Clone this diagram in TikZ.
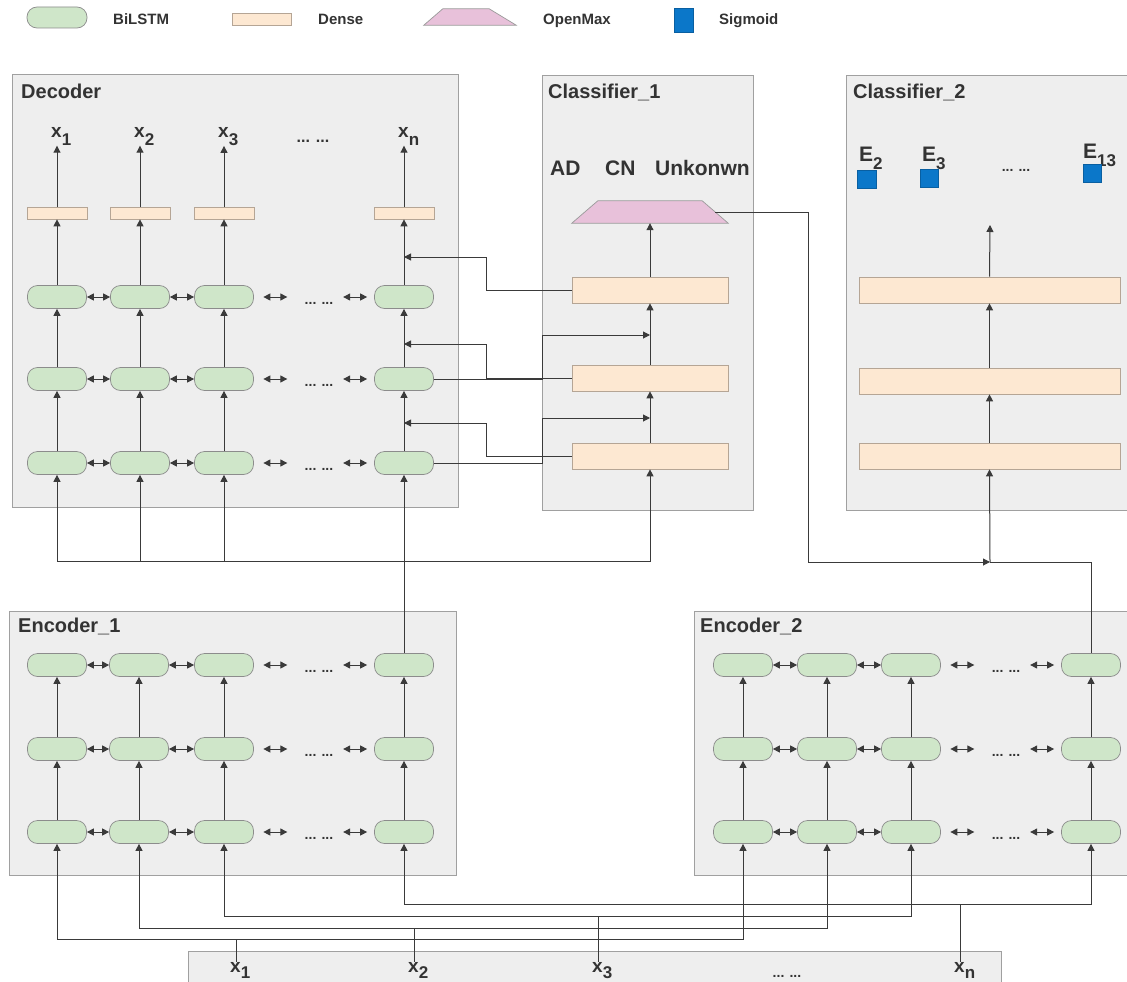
\documentclass[tikz,border=0pt]{standalone}
\usepackage{fontspec}
\setmainfont{Liberation Sans}
\usetikzlibrary{arrows.meta,calc}
\definecolor{txt}{HTML}{333333}
\definecolor{linec}{HTML}{3A3A3A}
\definecolor{boxfill}{HTML}{EEEEEE}
\definecolor{boxdraw}{HTML}{A0A0A0}
\definecolor{lstmfill}{HTML}{CFE6C9}
\definecolor{lstmdraw}{HTML}{8C8C8C}
\definecolor{densefill}{HTML}{FDE8D2}
\definecolor{densedraw}{HTML}{B5A595}
\definecolor{omfill}{HTML}{E8C1DA}
\definecolor{omdraw}{HTML}{9A9A9A}
\definecolor{sigfill}{HTML}{0B77C9}
\newcommand\sbx[1]{\raisebox{-8.5pt}{\fontsize{17}{17}\selectfont #1}}
\newcommand\sbxb[1]{\raisebox{-6.5pt}{\fontsize{17}{17}\selectfont #1}}
\tikzset{
  grp/.style={draw=boxdraw, fill=boxfill, line width=0.9pt},
  lstm/.style={draw=lstmdraw, fill=lstmfill, rounded corners=10pt, minimum width=59pt, minimum height=23pt, inner sep=0pt, line width=0.7pt},
  dns/.style={draw=densedraw, fill=densefill, inner sep=0pt, line width=0.7pt},
  sig/.style={draw=sigfill!80!black, fill=sigfill, inner sep=0pt, line width=0.5pt},
  ombox/.style={inner sep=0pt},
  omshape/.style={draw=omdraw, fill=omfill, line width=0.7pt},
  conn/.style={draw=linec, line width=1pt},
  arr/.style={conn, -{Triangle[length=7pt,width=7pt]}},
  darr/.style={conn, {Triangle[length=7pt,width=7pt]}-{Triangle[length=7pt,width=7pt]}},
  ttl/.style={font=\fontsize{20}{20}\selectfont\bfseries, text=txt, anchor=base west, inner sep=0pt},
  xlab/.style={font=\fontsize{19}{19}\selectfont\bfseries, text=txt, anchor=base west, inner sep=0pt},
  elab/.style={font=\fontsize{21}{21}\selectfont\bfseries, text=txt, anchor=base west, inner sep=0pt},
  cls/.style={font=\fontsize{21}{21}\selectfont\bfseries, text=txt, anchor=base west, inner sep=0pt},
  dots/.style={font=\fontsize{14}{14}\selectfont\bfseries, text=txt, anchor=base, inner sep=0pt},
  leg/.style={font=\fontsize{15}{15}\selectfont\bfseries, text=txt, anchor=base west, inner sep=0pt}
}
\newcommand\lstmgrid[3]{%
  \foreach \r/\y in {#3} { \foreach \c/\x in {#2} { \node[lstm] (#1-\r-\c) at (\x,\y) {}; } }
  \foreach \r in {1,2,3} {
    \draw[darr] (#1-\r-1.east) -- (#1-\r-2.west);
    \draw[darr] (#1-\r-2.east) -- (#1-\r-3.west);
    \draw[darr] ($(#1-\r-3.east)+(9.5,0)$) -- ++(24,0);
    \draw[darr] ($(#1-\r-4.west)+(-31,0)$) -- ++(24,0);
    \node[dots] (#1-dots-\r) at ($(#1-\r-3.east)!0.5!(#1-\r-4.west)+(5,7)$) {... ...};
  }
  \foreach \c in {1,2,3,4} {
    \draw[arr] (#1-2-\c.north) -- (#1-1-\c.south);
    \draw[arr] (#1-3-\c.north) -- (#1-2-\c.south);
  }
}
\begin{document}
\begin{tikzpicture}[x=1pt,y=-1pt]
\useasboundingbox (0,0) rectangle (1127,982);
\fill[white] (0,0) rectangle (1127,982);

% ---------- legend ----------
\node[lstm, minimum width=60pt, minimum height=21pt] (lg1) at (57,17.5) {};
\node[leg] (lt1) at (113,25) {BiLSTM};
\node[dns, minimum width=59pt, minimum height=12pt] (lg2) at (261.5,19) {};
\node[leg] (lt2) at (318,25) {Dense};
\node[ombox, minimum width=92pt, minimum height=16pt] (lg3) at (470,17) {};
\draw[omshape] (lg3.south west) -- ([xshift=19pt]lg3.north west) -- ([xshift=-27pt]lg3.north east) -- (lg3.south east) -- cycle;
\node[leg] (lt3) at (543,25) {OpenMax};
\node[sig, minimum width=19pt, minimum height=24pt] (lg4) at (683.5,20) {};
\node[leg] (lt4) at (719,25) {Sigmoid};

% ---------- group boxes ----------
\draw[grp] (12,74) rectangle (458,507);
\draw[grp] (542,75) rectangle (753,510);
\draw[grp] (846,75) rectangle (1140,510);
\draw[grp] (9,611) rectangle (456,875);
\draw[grp] (694,611) rectangle (1140,875);
\draw[grp] (188,951) rectangle (1001,1000);

\node[ttl] (tdec) at (21,98) {Decoder};
\node[ttl] (tc1) at (548,98) {Classifier\_1};
\node[ttl] (tc2) at (853,98) {Classifier\_2};
\node[ttl] (te1) at (18,632) {Encoder\_1};
\node[ttl] (te2) at (700,632) {Encoder\_2};

% ---------- decoder ----------
\lstmgrid{d}{1/57,2/140,3/224,4/404}{1/297,2/379,3/463}
\foreach \c/\x/\s in {1/57/1,2/140/2,3/224/3,4/404/n} {
  \node[dns, minimum width=60pt, minimum height=12pt] (dd-\c) at (\x,213) {};
  \node[xlab] (dx-\c) at (\x-6,137) {x\sbx{\s}};
  \draw[arr] (d-1-\c.north) -- (dd-\c.south);
  \draw[arr] (dd-\c.north) -- (dd-\c.north |- dx-\c.south);
}
\node[font=\fontsize{16}{16}\selectfont\bfseries, text=txt, anchor=base, inner sep=0pt] (ddots) at (313,142) {... ...};

% ---------- encoder 1 / encoder 2 ----------
\lstmgrid{ea}{1/57,2/139,3/224,4/404}{1/665,2/749,3/832}
\lstmgrid{eb}{1/743,2/827,3/911,4/1091}{1/665,2/749,3/832}

% ---------- classifier 1 ----------
\node[cls] (cad) at (550,175) {AD};
\node[cls] (ccn) at (605,175) {CN};
\node[cls] (cun) at (655,175) {Unkonwn};
\node[ombox, minimum width=156pt, minimum height=22pt] (om) at (650,212) {};
\draw[omshape] (om.south west) -- ([xshift=26pt]om.north west) -- ([xshift=-26pt]om.north east) -- (om.south east) -- cycle;
\coordinate (omr) at ($(om.east)+(-13,0)$);
\node[dns, minimum width=156pt, minimum height=26pt] (c1-1) at (650,290) {};
\node[dns, minimum width=156pt, minimum height=26pt] (c1-2) at (650,378) {};
\node[dns, minimum width=156pt, minimum height=26pt] (c1-3) at (650,456) {};
\draw[arr] (c1-1.north) -- (om.south);
\draw[arr] (c1-2.north) -- (c1-1.south);
\draw[arr] (c1-3.north) -- (c1-2.south);

% ---------- classifier 2 ----------
\node[elab] (e2l) at (859,161) {E\sbx{2}};
\node[elab] (e3l) at (922,161) {E\sbx{3}};
\node[elab] (e13l) at (1083,158) {E\sbx{13}};
\node[sig, minimum width=19pt, minimum height=18pt] (s2) at (866.5,179) {};
\node[sig, minimum width=18pt, minimum height=18pt] (s3) at (929,178) {};
\node[sig, minimum width=18pt, minimum height=18pt] (s13) at (1092,173) {};
\node[dots] (c2dots) at (1016,171) {... ...};
\node[dns, minimum width=261pt, minimum height=26pt] (c2-1) at (989.5,290) {};
\node[dns, minimum width=261pt, minimum height=26pt] (c2-2) at (989.5,381) {};
\node[dns, minimum width=261pt, minimum height=26pt] (c2-3) at (989.5,456) {};
\coordinate (c2out) at (990,225);
\draw[arr] (c2-1.north) -- (c2out);
\draw[arr] (c2-2.north) -- (c2-1.south);
\draw[arr] (c2-3.north) -- (c2-2.south);

% ---------- decoder <-> classifier 1 ----------
\coordinate (K1) at (542,335); \coordinate (T1) at (650,335);
\coordinate (K2) at (542,418); \coordinate (T2) at (650,418);
\draw[arr] (d-2-4.east) -| (K1) -- (T1);
\draw[arr] (d-3-4.east) -| (K2) -- (T2);
\coordinate (G1) at (486,257); \coordinate (F1) at (404,257);
\coordinate (G2) at (486,344); \coordinate (F2) at (404,344);
\coordinate (G3) at (486,423); \coordinate (F3) at (404,423);
\draw[arr] (c1-1.west) -| (G1) -- (F1);
\draw[arr] (c1-2.west) -| (G2) -- (F2);
\draw[arr] (c1-3.west) -| (G3) -- (F3);

% ---------- encoder 1 -> decoder / classifier 1 ----------
\coordinate (J1) at (404,561);
\draw[conn] (ea-1-4.north) -- (J1);
\draw[arr] (J1) -- (d-3-4.south);
\draw[arr] (J1) -| (d-3-1.south);
\draw[arr] (J1) -| (d-3-2.south);
\draw[arr] (J1) -| (d-3-3.south);
\draw[arr] (J1) -| (c1-3.south);

% ---------- encoder 2 / openmax -> classifier 2 ----------
\coordinate (J2) at (990,562);
\coordinate (Jom) at (808,562);
\draw[conn] (eb-1-4.north) |- (J2);
\draw[arr] (omr) -| (Jom) -- (J2);
\draw[arr] (J2) -- (c2-3.south);

% ---------- inputs ----------
\foreach \k/\x/\s/\yy in {1/236/1/939,2/414/2/928,3/598/3/916,4/960/n/904} {
  \node[xlab] (in-\k) at (\x-6,972) {x\sbxb{\s}};
  \coordinate (B\k) at (\x,\yy);
  \draw[conn] (B\k) -- (B\k |- in-\k.north);
  \draw[arr] (B\k) -| (ea-3-\k.south);
  \draw[arr] (B\k) -| (eb-3-\k.south);
}
\node[dots] (indots) at (787,977) {... ...};
\end{tikzpicture}
\end{document}
